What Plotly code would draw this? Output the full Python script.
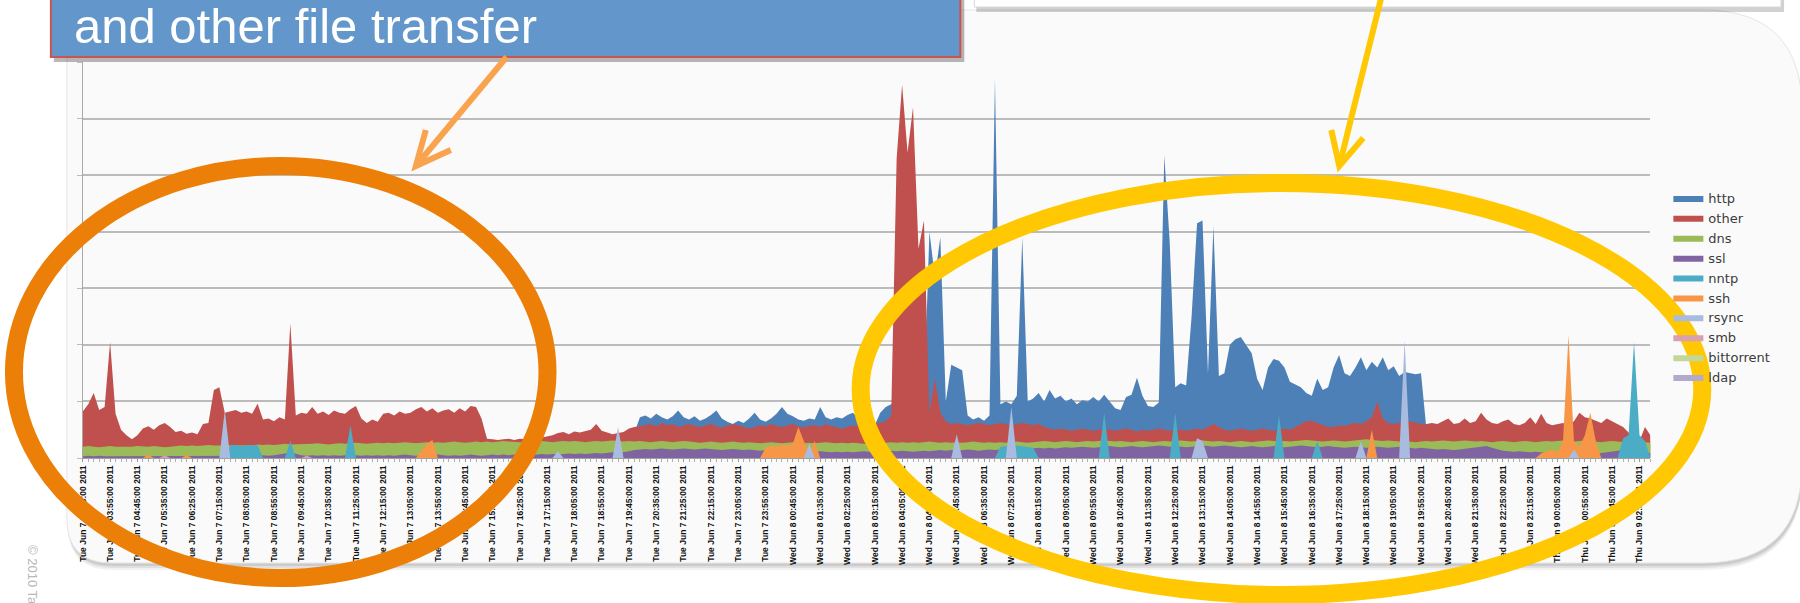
import plotly.graph_objects as go

# ---------------- data (10-minute samples) ----------------
tick_labels = [
    'Tue Jun 7 03:05:00 2011', 'Tue Jun 7 03:55:00 2011', 'Tue Jun 7 04:45:00 2011', 'Tue Jun 7 05:35:00 2011',
    'Tue Jun 7 06:25:00 2011', 'Tue Jun 7 07:15:00 2011', 'Tue Jun 7 08:05:00 2011', 'Tue Jun 7 08:55:00 2011',
    'Tue Jun 7 09:45:00 2011', 'Tue Jun 7 10:35:00 2011', 'Tue Jun 7 11:25:00 2011', 'Tue Jun 7 12:15:00 2011',
    'Tue Jun 7 13:05:00 2011', 'Tue Jun 7 13:55:00 2011', 'Tue Jun 7 14:45:00 2011', 'Tue Jun 7 15:35:00 2011',
    'Tue Jun 7 16:25:00 2011', 'Tue Jun 7 17:15:00 2011', 'Tue Jun 7 18:05:00 2011', 'Tue Jun 7 18:55:00 2011',
    'Tue Jun 7 19:45:00 2011', 'Tue Jun 7 20:35:00 2011', 'Tue Jun 7 21:25:00 2011', 'Tue Jun 7 22:15:00 2011',
    'Tue Jun 7 23:05:00 2011', 'Tue Jun 7 23:55:00 2011', 'Wed Jun 8 00:45:00 2011', 'Wed Jun 8 01:35:00 2011',
    'Wed Jun 8 02:25:00 2011', 'Wed Jun 8 03:15:00 2011', 'Wed Jun 8 04:05:00 2011', 'Wed Jun 8 04:55:00 2011',
    'Wed Jun 8 05:45:00 2011', 'Wed Jun 8 06:35:00 2011', 'Wed Jun 8 07:25:00 2011', 'Wed Jun 8 08:15:00 2011',
    'Wed Jun 8 09:05:00 2011', 'Wed Jun 8 09:55:00 2011', 'Wed Jun 8 10:45:00 2011', 'Wed Jun 8 11:35:00 2011',
    'Wed Jun 8 12:25:00 2011', 'Wed Jun 8 13:15:00 2011', 'Wed Jun 8 14:05:00 2011', 'Wed Jun 8 14:55:00 2011',
    'Wed Jun 8 15:45:00 2011', 'Wed Jun 8 16:35:00 2011', 'Wed Jun 8 17:25:00 2011', 'Wed Jun 8 18:15:00 2011',
    'Wed Jun 8 19:05:00 2011', 'Wed Jun 8 19:55:00 2011', 'Wed Jun 8 20:45:00 2011', 'Wed Jun 8 21:35:00 2011',
    'Wed Jun 8 22:25:00 2011', 'Wed Jun 8 23:15:00 2011', 'Thu Jun 9 00:05:00 2011', 'Thu Jun 9 00:55:00 2011',
    'Thu Jun 9 01:45:00 2011', 'Thu Jun 9 02:35:00 2011',
]

http = [
    0.2, 0.2, 0.2, 0.2, 0.2, 0.2, 0.2, 0.2, 0.2, 0.2, 0.2, 0.2, 0.2, 0.2, 0.2, 0.2, 0.2, 0.2, 0.2, 0.2,
    0.2, 0.2, 0.2, 0.2, 0.2, 0.2, 0.2, 0.2, 0.2, 0.2, 0.2, 0.2, 0.2, 0.2, 0.2, 0.2, 0.2, 0.2, 0.2, 0.2,
    0.2, 0.2, 0.2, 0.2, 0.2, 0.2, 0.2, 0.2, 0.2, 0.2, 0.2, 0.2, 0.2, 0.2, 0.2, 0.2, 0.2, 0.2, 0.2, 0.2,
    0.2, 0.2, 0.2, 0.2, 0.2, 0.2, 0.2, 0.2, 0.2, 0.2, 0.2, 0.2, 0.2, 0.2, 0.2, 0.2, 0.2, 0.2, 0.2, 0.2,
    0.2, 0.2, 0.2, 0.2, 0.2, 0.2, 0.2, 0.2, 0.2, 0.2, 0.2, 0.2, 0.2, 0.2, 0.2, 0.2, 0.2, 0.2, 0.2, 0.2,
    0.3, 0.45, 0.72, 0.75, 0.7, 0.78, 0.72, 0.68, 0.74, 0.84, 0.72, 0.68, 0.74, 0.66, 0.7, 0.76, 0.84, 0.7, 0.64, 0.6,
    0.66, 0.62, 0.7, 0.8, 0.68, 0.64, 0.7, 0.78, 0.9, 0.78, 0.74, 0.68, 0.66, 0.7, 0.68, 0.9, 0.72, 0.68, 0.72, 0.7,
    0.76, 0.8, 0.7, 0.6, 0.56, 0.58, 0.8, 0.9, 0.95, 1.0, 1.0, 1.0, 1.0, 1.0, 1.0, 4.0, 3.2, 3.9, 1.0, 1.65,
    1.6, 1.55, 0.75, 0.68, 0.72, 0.66, 0.75, 6.7, 0.95, 1.0, 0.95, 1.1, 3.9, 1.0, 1.05, 1.15, 1.0, 1.2, 1.05, 1.1,
    1.0, 1.05, 0.95, 1.02, 1.0, 1.08, 1.0, 1.12, 1.0, 0.88, 0.85, 1.08, 1.12, 1.42, 1.1, 0.92, 0.9, 0.98, 5.35, 3.8,
    1.25, 1.32, 1.28, 2.5, 4.15, 4.2, 1.5, 4.1, 1.45, 1.5, 2.0, 2.1, 2.14, 2.0, 1.85, 1.4, 1.2, 1.6, 1.75, 1.72,
    1.6, 1.35, 1.3, 1.25, 1.15, 1.1, 1.4, 1.2, 1.25, 1.6, 1.82, 1.5, 1.45, 1.6, 1.78, 1.55, 1.7, 1.6, 1.78, 1.55,
    1.62, 1.45, 1.52, 1.5, 1.48, 1.5, 0.5, 0.3, 0.3, 0.3, 0.3, 0.3, 0.3, 0.3, 0.3, 0.3, 0.3, 0.3, 0.3, 0.3,
    0.3, 0.3, 0.3, 0.3, 0.3, 0.3, 0.3, 0.3, 0.3, 0.3, 0.3, 0.3, 0.3, 0.3, 0.3, 0.3, 0.3, 0.3, 0.3, 0.3,
    0.3, 0.3, 0.3, 0.3, 0.3, 0.3, 0.3, 0.3,
]

other = [
    0.82, 0.95, 1.15, 0.85, 0.9, 2.05, 0.78, 0.5, 0.4, 0.33, 0.4, 0.52, 0.56, 0.5, 0.58, 0.62, 0.55, 0.46, 0.48, 0.43,
    0.45, 0.42, 0.6, 0.62, 1.2, 1.25, 0.8, 0.82, 0.85, 0.8, 0.82, 0.78, 0.96, 0.68, 0.7, 0.65, 0.72, 0.68, 2.38, 0.75,
    0.8, 0.78, 0.9, 0.78, 0.82, 0.76, 0.84, 0.8, 0.78, 0.86, 0.92, 0.7, 0.62, 0.68, 0.64, 0.78, 0.8, 0.75, 0.82, 0.78,
    0.8, 0.86, 0.9, 0.82, 0.88, 0.8, 0.84, 0.86, 0.8, 0.88, 0.82, 0.92, 0.9, 0.7, 0.34, 0.33, 0.32, 0.33, 0.34, 0.32,
    0.34, 0.33, 0.35, 0.34, 0.36, 0.38, 0.4, 0.44, 0.46, 0.42, 0.47, 0.45, 0.48, 0.5, 0.6, 0.48, 0.45, 0.42, 0.44, 0.46,
    0.52, 0.55, 0.56, 0.58, 0.6, 0.56, 0.62, 0.58, 0.6, 0.55, 0.58, 0.6, 0.57, 0.55, 0.58, 0.6, 0.56, 0.54, 0.57, 0.6,
    0.58, 0.55, 0.52, 0.55, 0.58, 0.56, 0.6, 0.57, 0.55, 0.58, 0.6, 0.56, 0.54, 0.57, 0.58, 0.55, 0.6, 0.57, 0.55, 0.52,
    0.55, 0.58, 0.56, 0.55, 0.58, 0.6, 0.62, 0.65, 0.75, 5.3, 6.6, 5.4, 6.2, 3.7, 4.2, 0.8, 1.4, 0.8, 0.65, 0.6,
    0.62, 0.6, 0.58, 0.6, 0.62, 0.6, 0.58, 0.6, 0.62, 0.6, 0.58, 0.6, 0.62, 0.6, 0.58, 0.6, 0.55, 0.52, 0.5, 0.52,
    0.5, 0.48, 0.5, 0.52, 0.5, 0.48, 0.5, 0.52, 0.5, 0.48, 0.5, 0.52, 0.5, 0.47, 0.5, 0.48, 0.5, 0.52, 0.5, 0.48,
    0.5, 0.5, 0.48, 0.5, 0.52, 0.5, 0.55, 0.6, 0.55, 0.5, 0.48, 0.5, 0.52, 0.5, 0.48, 0.5, 0.52, 0.5, 0.48, 0.5,
    0.52, 0.5, 0.55, 0.6, 0.65, 0.66, 0.62, 0.58, 0.55, 0.55, 0.58, 0.56, 0.6, 0.62, 0.6, 0.65, 0.72, 1.0, 0.7, 0.62,
    0.6, 0.62, 0.65, 0.65, 0.62, 0.6, 0.6, 0.62, 0.6, 0.65, 0.7, 0.6, 0.62, 0.7, 0.62, 0.65, 0.8, 0.68, 0.62, 0.6,
    0.65, 0.68, 0.6, 0.58, 0.62, 0.72, 0.6, 0.78, 0.62, 0.58, 0.6, 0.62, 0.58, 0.65, 0.8, 0.72, 0.7, 0.66, 0.62, 0.7,
    0.65, 0.6, 0.55, 0.45, 0.35, 0.3, 0.55, 0.4,
]

dns = [
    0.2, 0.21, 0.2, 0.19, 0.2, 0.21, 0.2, 0.2, 0.19, 0.2, 0.21, 0.2, 0.2, 0.21, 0.2, 0.19, 0.2, 0.21, 0.22, 0.21,
    0.22, 0.21, 0.22, 0.23, 0.22, 0.22, 0.21, 0.22, 0.23, 0.22, 0.23, 0.22, 0.24, 0.23, 0.24, 0.23, 0.24, 0.25, 0.24, 0.24,
    0.25, 0.24, 0.25, 0.26, 0.25, 0.24, 0.25, 0.26, 0.25, 0.26, 0.27, 0.26, 0.25, 0.26, 0.27, 0.26, 0.27, 0.26, 0.27, 0.28,
    0.27, 0.26, 0.27, 0.28, 0.27, 0.28, 0.27, 0.28, 0.29, 0.28, 0.27, 0.28, 0.29, 0.28, 0.29, 0.28, 0.29, 0.3, 0.29, 0.28,
    0.28, 0.29, 0.28, 0.29, 0.3, 0.29, 0.28, 0.29, 0.3, 0.29, 0.3, 0.29, 0.28, 0.29, 0.3, 0.29, 0.3, 0.31, 0.3, 0.29,
    0.3, 0.29, 0.3, 0.29, 0.28, 0.29, 0.3, 0.29, 0.28, 0.29, 0.3, 0.29, 0.28, 0.27, 0.28, 0.29, 0.28, 0.27, 0.28, 0.29,
    0.28, 0.27, 0.28, 0.27, 0.26, 0.27, 0.28, 0.27, 0.26, 0.27, 0.28, 0.27, 0.26, 0.27, 0.26, 0.27, 0.28, 0.27, 0.26, 0.27,
    0.26, 0.27, 0.26, 0.25, 0.26, 0.27, 0.26, 0.27, 0.28, 0.27, 0.28, 0.27, 0.28, 0.27, 0.28, 0.29, 0.28, 0.27, 0.28, 0.27,
    0.28, 0.27, 0.28, 0.29, 0.28, 0.27, 0.28, 0.27, 0.28, 0.27, 0.28, 0.29, 0.28, 0.27, 0.28, 0.29, 0.3, 0.29, 0.28, 0.29,
    0.3, 0.29, 0.28, 0.29, 0.3, 0.29, 0.3, 0.31, 0.3, 0.29, 0.3, 0.29, 0.28, 0.29, 0.3, 0.29, 0.28, 0.29, 0.3, 0.29,
    0.3, 0.31, 0.3, 0.29, 0.3, 0.31, 0.3, 0.29, 0.3, 0.29, 0.28, 0.29, 0.3, 0.29, 0.28, 0.29, 0.3, 0.31, 0.3, 0.29,
    0.3, 0.29, 0.3, 0.31, 0.32, 0.31, 0.3, 0.29, 0.3, 0.31, 0.3, 0.29, 0.3, 0.31, 0.32, 0.33, 0.32, 0.31, 0.3, 0.31,
    0.3, 0.29, 0.3, 0.29, 0.28, 0.29, 0.3, 0.29, 0.3, 0.31, 0.3, 0.29, 0.3, 0.31, 0.3, 0.29, 0.3, 0.29, 0.28, 0.29,
    0.3, 0.29, 0.28, 0.29, 0.3, 0.29, 0.28, 0.29, 0.3, 0.29, 0.3, 0.31, 0.3, 0.29, 0.3, 0.31, 0.3, 0.29, 0.28, 0.29,
    0.3, 0.29, 0.28, 0.27, 0.28, 0.27, 0.28, 0.27,
]

ssl = [
    0.03, 0.04, 0.03, 0.04, 0.03, 0.03, 0.04, 0.03, 0.04, 0.03, 0.03, 0.04, 0.03, 0.04, 0.03, 0.04, 0.03, 0.03, 0.04, 0.03,
    0.04, 0.03, 0.04, 0.03, 0.03, 0.04, 0.03, 0.04, 0.03, 0.04, 0.03, 0.03, 0.04, 0.05, 0.04, 0.05, 0.06, 0.08, 0.1, 0.07,
    0.05, 0.04, 0.05, 0.04, 0.05, 0.04, 0.05, 0.04, 0.05, 0.04, 0.05, 0.04, 0.05, 0.04, 0.05, 0.04, 0.05, 0.04, 0.05, 0.06,
    0.05, 0.04, 0.05, 0.04, 0.05, 0.06, 0.05, 0.04, 0.05, 0.04, 0.05, 0.06, 0.05, 0.04, 0.05, 0.06, 0.05, 0.06, 0.05, 0.06,
    0.05, 0.06, 0.05, 0.06, 0.07, 0.06, 0.07, 0.06, 0.07, 0.08, 0.07, 0.08, 0.07, 0.08, 0.09, 0.08, 0.09, 0.1, 0.09, 0.1,
    0.12, 0.14, 0.15, 0.16, 0.15, 0.16, 0.17, 0.16, 0.15, 0.16, 0.17, 0.16, 0.15, 0.16, 0.17, 0.16, 0.15, 0.14, 0.15, 0.16,
    0.15, 0.14, 0.15, 0.14, 0.13, 0.14, 0.13, 0.12, 0.13, 0.12, 0.13, 0.14, 0.13, 0.12, 0.11, 0.12, 0.11, 0.1, 0.11, 0.1,
    0.11, 0.1, 0.11, 0.12, 0.11, 0.12, 0.13, 0.12, 0.13, 0.12, 0.13, 0.12, 0.11, 0.12, 0.13, 0.12, 0.13, 0.14, 0.13, 0.14,
    0.13, 0.14, 0.15, 0.14, 0.13, 0.14, 0.15, 0.14, 0.15, 0.16, 0.15, 0.16, 0.17, 0.16, 0.17, 0.18, 0.17, 0.18, 0.17, 0.18,
    0.19, 0.18, 0.19, 0.2, 0.19, 0.18, 0.19, 0.2, 0.21, 0.2, 0.19, 0.2, 0.21, 0.2, 0.19, 0.2, 0.21, 0.22, 0.21, 0.2,
    0.21, 0.2, 0.19, 0.2, 0.21, 0.22, 0.21, 0.2, 0.21, 0.22, 0.21, 0.2, 0.19, 0.2, 0.21, 0.2, 0.19, 0.2, 0.21, 0.2,
    0.19, 0.2, 0.21, 0.22, 0.21, 0.2, 0.19, 0.2, 0.21, 0.2, 0.19, 0.18, 0.19, 0.2, 0.19, 0.18, 0.19, 0.2, 0.19, 0.18,
    0.19, 0.2, 0.19, 0.18, 0.17, 0.18, 0.17, 0.16, 0.15, 0.16, 0.15, 0.14, 0.15, 0.16, 0.17, 0.18, 0.2, 0.21, 0.18, 0.15,
    0.13, 0.12, 0.11, 0.12, 0.11, 0.1, 0.11, 0.1, 0.09, 0.1, 0.09, 0.1, 0.09, 0.08, 0.09, 0.1, 0.09, 0.08, 0.09, 0.1,
    0.11, 0.13, 0.14, 0.12, 0.1, 0.09, 0.1, 0.08,
]

# sparse series: sample index -> value
nntp_t = [26, 27, 28, 29, 30, 31, 32, 33, 37, 38, 39, 48, 49, 50, 167, 168, 169, 170, 171, 172, 173, 174, 175,
          186, 187, 188, 199, 200, 201, 218, 219, 220, 225, 226, 227, 281, 282, 283, 284, 285, 286, 287]
nntp_v = [0, 0.22, 0.23, 0.21, 0.23, 0.22, 0.23, 0, 0, 0.3, 0, 0, 0.58, 0, 0, 0.2, 0.21, 0.2, 0.22, 0.21, 0.2, 0.18, 0,
          0, 0.8, 0, 0, 0.8, 0, 0, 0.75, 0, 0, 0.3, 0, 0, 0.35, 0.4, 2.05, 0.4, 0.3, 0]

ssh_t = [11, 12, 13, 18, 19, 20, 61, 62, 63, 64, 65, 124, 125, 126, 127, 128, 129, 130, 131, 132, 133, 134, 135,
         235, 236, 237, 266, 267, 268, 269, 270, 271, 272, 273, 274, 275, 276, 277, 278]
ssh_v = [0, 0.06, 0, 0, 0.05, 0, 0, 0.12, 0.25, 0.32, 0, 0, 0.18, 0.22, 0.2, 0.24, 0.22, 0.25, 0.55, 0.3, 0.1, 0.3, 0,
         0, 0.5, 0, 0, 0.08, 0.12, 0.15, 0.1, 0.3, 2.17, 0.3, 0.2, 0.4, 0.8, 0.3, 0]

rsync_t = [25, 26, 27, 86, 87, 88, 97, 98, 99, 132, 133, 134, 159, 160, 161, 169, 170, 171, 203, 204, 205, 206,
           233, 234, 235, 241, 242, 243, 272, 273, 274]
rsync_v = [0, 0.85, 0, 0, 0.12, 0, 0, 0.55, 0, 0, 0.25, 0, 0, 0.42, 0, 0, 0.9, 0, 0, 0.35, 0.3, 0,
           0, 0.3, 0, 0, 2.08, 0, 0, 0.15, 0]

smb_t = [14, 15, 16, 40, 41, 42]
smb_v = [0, 0.05, 0, 0, 0.04, 0]
bittorrent_t = [0, 287]
bittorrent_v = [0, 0]
ldap_t = [0, 287]
ldap_v = [0, 0]

series_names = ['http', 'other', 'dns', 'ssl', 'nntp', 'ssh', 'rsync', 'smb', 'bittorrent', 'ldap']
series_colors = ['#4E80B8', '#C0504D', '#9BBB59', '#8064A2', '#4BACC6', '#F79646',
                 '#A9BCDF', '#D9A0AE', '#C4D79B', '#B3A9CF']

# ---------------- helpers (figure pixel -> paper fraction; margins are 0) ----------------
W, H = 1800, 603


def X(p):
    return p / W


def Y(p):
    return 1 - p / H


def f(v):
    return f"{v:.5f}"


def rrect(L, T, R, B, rl, rr):
    return (f"M{f(X(L + rl))},{f(Y(T))} L{f(X(R - rr))},{f(Y(T))} "
            f"Q{f(X(R))},{f(Y(T))} {f(X(R))},{f(Y(T + rr))} L{f(X(R))},{f(Y(B - rr))} "
            f"Q{f(X(R))},{f(Y(B))} {f(X(R - rr))},{f(Y(B))} L{f(X(L + rl))},{f(Y(B))} "
            f"Q{f(X(L))},{f(Y(B))} {f(X(L))},{f(Y(B - rl))} L{f(X(L))},{f(Y(T + rl))} "
            f"Q{f(X(L))},{f(Y(T))} {f(X(L + rl))},{f(Y(T))} Z")


def poly(pts):
    return "M" + " L".join(f"{f(X(a))},{f(Y(b))}" for a, b in pts)


# ---------------- figure ----------------
fig = go.Figure()
main = {'http': (list(range(len(http))), http), 'other': (list(range(len(other))), other),
        'dns': (list(range(len(dns))), dns), 'ssl': (list(range(len(ssl))), ssl),
        'nntp': (nntp_t, nntp_v), 'ssh': (ssh_t, ssh_v), 'rsync': (rsync_t, rsync_v),
        'smb': (smb_t, smb_v), 'bittorrent': (bittorrent_t, bittorrent_v), 'ldap': (ldap_t, ldap_v)}
for name, color in zip(series_names, series_colors):
    xs, ys = main[name]
    fig.add_trace(go.Scatter(x=xs, y=ys, name=name, mode='lines', fill='tozeroy',
                             line=dict(width=0, color=color), fillcolor=color, hoverinfo='skip'))

shapes = []
# chart panel with soft shadow
panel = dict(L=62, T=10, R=1802, B=563, rl=45, rr=100)
for off, alpha in [(7, 0.05), (5, 0.07), (3, 0.09)]:
    shapes.append(dict(type='path', xref='paper', yref='paper', layer='below',
                       path=rrect(panel['L'] + 1, panel['T'] + off, panel['R'] + 1, panel['B'] + off,
                                  panel['rl'], panel['rr']),
                       fillcolor=f'rgba(0,0,0,{alpha})', line=dict(width=0)))
shapes.append(dict(type='path', xref='paper', yref='paper', layer='below',
                   path=rrect(panel['L'], panel['T'], panel['R'], panel['B'], panel['rl'], panel['rr']),
                   fillcolor='#FAFAFA', line=dict(color='#E6E6E6', width=1)))

# top-right white callout (only its bottom edge is visible)
shapes.append(dict(type='rect', xref='paper', yref='paper', layer='above',
                   x0=X(974), x1=X(1784), y0=Y(12), y1=Y(-20),
                   fillcolor='rgba(0,0,0,0.18)', line=dict(width=0)))
shapes.append(dict(type='rect', xref='paper', yref='paper', layer='above',
                   x0=X(972), x1=X(1781), y0=Y(7), y1=Y(-20),
                   fillcolor='#FFFFFF', line=dict(color='#D8D8D8', width=1)))

# blue callout box
shapes.append(dict(type='rect', xref='paper', yref='paper', layer='above',
                   x0=X(49), x1=X(962), y0=Y(62), y1=Y(-20),
                   fillcolor='rgba(0,0,0,0.28)', line=dict(width=0)))
shapes.append(dict(type='rect', xref='paper', yref='paper', layer='above',
                   x0=X(46), x1=X(958), y0=Y(57), y1=Y(-20),
                   fillcolor='#6397CC', line=dict(color='#C8554F', width=2)))

# ellipses
shapes.append(dict(type='circle', xref='paper', yref='paper', layer='above',
                   x0=X(9), x1=X(544), y0=Y(578), y1=Y(166),
                   line=dict(color='#EC7F07', width=18)))
shapes.append(dict(type='circle', xref='paper', yref='paper', layer='above',
                   x0=X(858), x1=X(1702), y0=Y(595), y1=Y(183),
                   line=dict(color='#FFC802', width=18)))

# arrows
shapes.append(dict(type='path', xref='paper', yref='paper', layer='above',
                   path=poly([(503, 57), (412, 166)]), line=dict(color='#F9A34F', width=6)))
shapes.append(dict(type='path', xref='paper', yref='paper', layer='above',
                   path=poly([(422, 130), (412, 166), (447, 150)]), line=dict(color='#F9A34F', width=6)))
shapes.append(dict(type='path', xref='paper', yref='paper', layer='above',
                   path=poly([(1380, -2), (1338, 166)]), line=dict(color='#FFC802', width=6)))
shapes.append(dict(type='path', xref='paper', yref='paper', layer='above',
                   path=poly([(1330, 130), (1338, 166), (1362, 138)]), line=dict(color='#FFC802', width=6)))

annotations = [
    dict(text='and other file transfer', xref='paper', yref='paper', x=X(67), y=Y(26),
         xanchor='left', yanchor='middle', showarrow=False,
         font=dict(family='Liberation Sans, Arial, sans-serif', size=49, color='#FFFFFF')),
    dict(text='© 2010 Ta', xref='paper', yref='paper', x=X(28), y=Y(543),
         xanchor='center', yanchor='top', textangle=90, showarrow=False,
         font=dict(family='Liberation Sans, Arial, sans-serif', size=13, color='#B8B8B8')),
]

n_last = len(http) - 1
fig.update_layout(
    width=W, height=H, margin=dict(l=0, r=0, t=0, b=0),
    paper_bgcolor='#FFFFFF', plot_bgcolor='rgba(0,0,0,0)',
    shapes=shapes, annotations=annotations,
    showlegend=True,
    legend=dict(x=X(1668), y=Y(183), xanchor='left', yanchor='top', bgcolor='rgba(0,0,0,0)',
                font=dict(family='DejaVu Sans, Verdana, sans-serif', size=13, color='#3A3A3A'),
                traceorder='normal', itemclick=False, itemdoubleclick=False),
    xaxis=dict(domain=[X(78), X(1650)], range=[0, n_last], tickmode='array',
               tickvals=list(range(0, 5 * len(tick_labels), 5)), ticktext=tick_labels,
               tickangle=-90, ticks='outside', ticklen=3, tickcolor='#9A9A9A',
               tickfont=dict(family='Liberation Sans, Arial, sans-serif', size=8.5, weight='bold',
                             color='#111111'),
               showline=True, linecolor='#A0A0A0', linewidth=1, showgrid=False, zeroline=False,
               minor=dict(tickmode='linear', tick0=0, dtick=1, ticks='outside', ticklen=3,
                          tickcolor='#B0B0B0', showgrid=False)),
    yaxis=dict(domain=[Y(458), Y(62)], range=[0, 7], dtick=1, tick0=0, showgrid=True,
               gridcolor='#BBBBBB', gridwidth=1.5, showticklabels=False, ticks='outside',
               ticklen=5, tickcolor='#BBBBBB', showline=True, linecolor='#A8A8A8', zeroline=False),
)

fig.write_html("out.html", config={'displayModeBar': False},
               post_script="document.body.style.margin='0';document.body.style.overflow='hidden';")
